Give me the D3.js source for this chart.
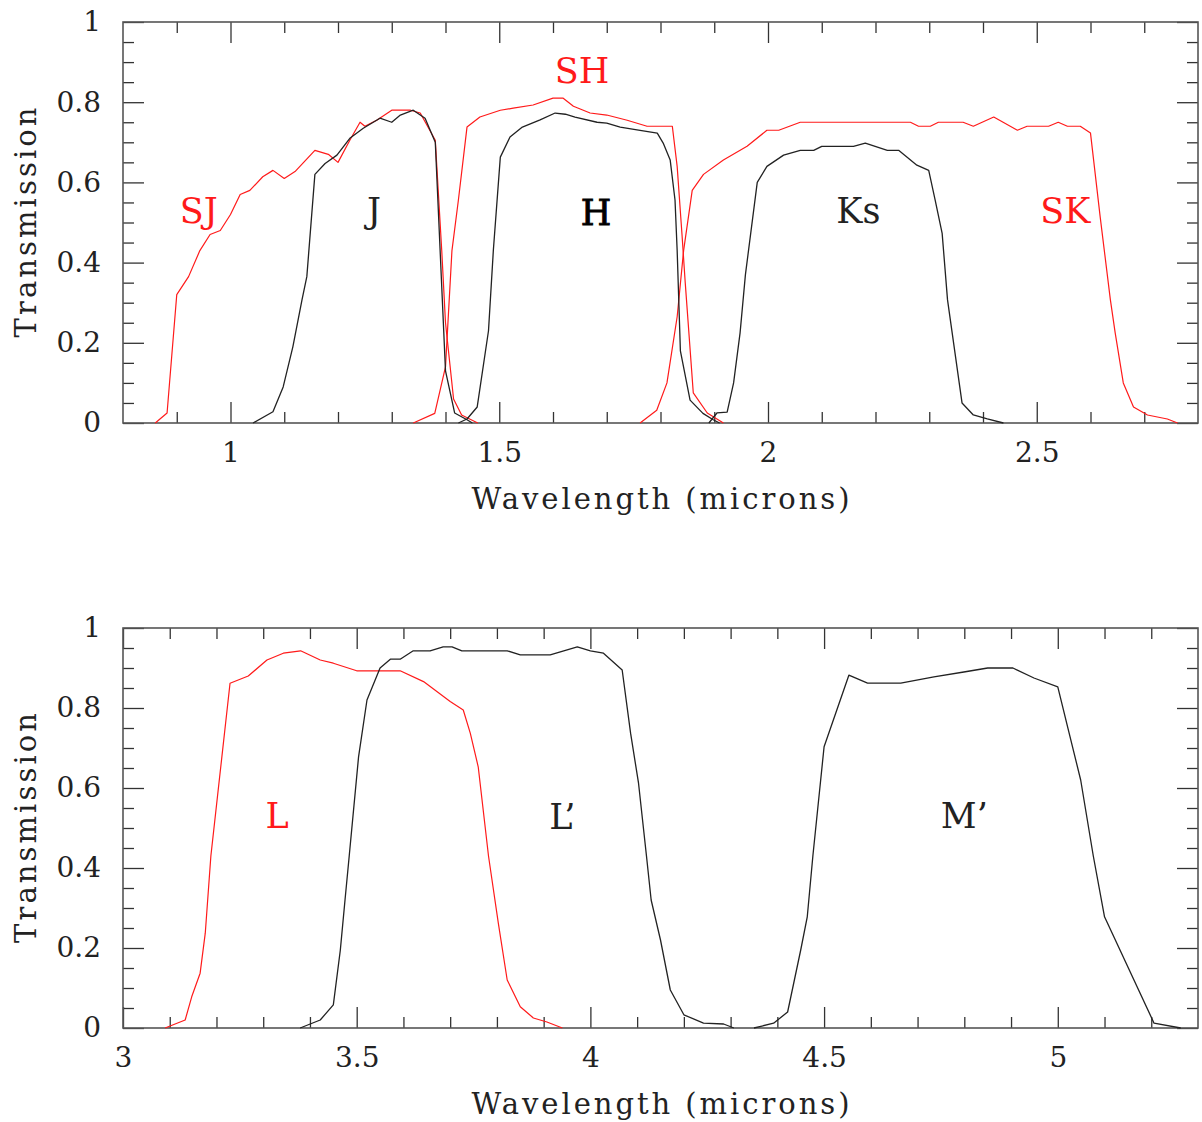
<!DOCTYPE html>
<html>
<head>
<meta charset="utf-8">
<script src="https://cdn.jsdelivr.net/npm/d3@7"></script>
<style>
  body { margin: 0; background: #fff; }
  svg { display: block; }
</style>
</head>
<body>
<div id="chart"></div>
<script>
// ---- data: [wavelength (microns), transmission] ----
var SJ = [[0.86,0],[0.882,0.025],[0.90,0.32],[0.922,0.365],[0.943,0.43],[0.962,0.47],[0.981,0.48],[1.0,0.52],
  [1.018,0.57],[1.036,0.58],[1.06,0.614],[1.079,0.63],[1.10,0.61],[1.12,0.627],[1.157,0.68],[1.182,0.67],
  [1.20,0.65],[1.222,0.705],[1.241,0.75],[1.25,0.74],[1.272,0.755],[1.30,0.78],[1.335,0.78],[1.353,0.773],
  [1.381,0.705],[1.393,0.43],[1.40,0.25],[1.415,0.06],[1.43,0.02],[1.46,0]];
var J = [[1.042,0],[1.079,0.028],[1.098,0.09],[1.116,0.19],[1.133,0.307],[1.142,0.365],[1.157,0.62],
  [1.176,0.647],[1.198,0.668],[1.222,0.71],[1.247,0.735],[1.278,0.76],[1.30,0.75],[1.316,0.768],[1.34,0.78],
  [1.362,0.76],[1.381,0.70],[1.39,0.43],[1.40,0.13],[1.417,0.025],[1.44,0.008],[1.45,0]];
var SH = [[1.34,0],[1.38,0.024],[1.40,0.14],[1.412,0.43],[1.424,0.556],[1.44,0.738],[1.464,0.763],[1.502,0.78],
  [1.526,0.785],[1.563,0.793],[1.60,0.81],[1.619,0.81],[1.638,0.79],[1.669,0.773],[1.70,0.768],[1.738,0.755],
  [1.775,0.74],[1.822,0.74],[1.831,0.64],[1.84,0.47],[1.846,0.35],[1.861,0.075],[1.887,0.025],[1.917,0]];
var H = [[1.424,0],[1.44,0.01],[1.459,0.04],[1.48,0.23],[1.489,0.43],[1.502,0.663],[1.52,0.713],[1.543,0.738],
  [1.576,0.756],[1.604,0.773],[1.623,0.77],[1.641,0.763],[1.682,0.75],[1.70,0.748],[1.725,0.738],[1.762,0.73],
  [1.794,0.723],[1.805,0.698],[1.818,0.656],[1.827,0.556],[1.831,0.43],[1.837,0.18],[1.855,0.057],
  [1.879,0.024],[1.898,0.008],[1.91,0]];
var SK = [[1.762,0],[1.793,0.032],[1.812,0.10],[1.831,0.265],[1.843,0.43],[1.859,0.58],[1.88,0.62],[1.917,0.656],
  [1.961,0.69],[1.998,0.73],[2.02,0.73],[2.06,0.75],[2.265,0.75],[2.28,0.74],[2.302,0.74],[2.317,0.75],
  [2.363,0.75],[2.382,0.74],[2.42,0.763],[2.464,0.73],[2.482,0.74],[2.522,0.74],[2.54,0.75],[2.557,0.74],
  [2.581,0.74],[2.60,0.723],[2.618,0.514],[2.637,0.307],[2.646,0.224],[2.661,0.10],[2.68,0.04],[2.706,0.02],
  [2.743,0.01],[2.762,0]];
var Ks = [[1.89,0],[1.905,0.025],[1.924,0.027],[1.936,0.10],[1.948,0.224],[1.958,0.37],[1.98,0.6],[1.998,0.64],
  [2.029,0.668],[2.06,0.68],[2.085,0.68],[2.1,0.69],[2.159,0.69],[2.181,0.698],[2.222,0.68],[2.243,0.68],
  [2.277,0.643],[2.299,0.63],[2.311,0.556],[2.324,0.473],[2.334,0.307],[2.361,0.05],[2.382,0.02],
  [2.408,0.01],[2.438,0]];
var L = [[3.09,0],[3.133,0.02],[3.147,0.078],[3.165,0.137],[3.176,0.237],[3.188,0.43],[3.229,0.862],[3.268,0.88],
  [3.308,0.92],[3.343,0.937],[3.38,0.943],[3.422,0.92],[3.45,0.912],[3.5,0.893],[3.593,0.893],[3.643,0.866],
  [3.70,0.816],[3.728,0.795],[3.743,0.737],[3.76,0.653],[3.782,0.43],[3.803,0.262],[3.822,0.12],[3.85,0.053],
  [3.878,0.025],[3.907,0.015],[3.94,0]];
var Lp = [[3.379,0],[3.422,0.02],[3.45,0.058],[3.465,0.195],[3.475,0.32],[3.484,0.43],[3.504,0.678],[3.522,0.82],
  [3.55,0.9],[3.572,0.922],[3.593,0.922],[3.621,0.943],[3.657,0.943],[3.685,0.953],[3.704,0.953],[3.725,0.943],
  [3.822,0.943],[3.85,0.933],[3.914,0.933],[3.972,0.953],[4.0,0.943],[4.028,0.937],[4.068,0.895],[4.086,0.737],
  [4.103,0.612],[4.12,0.43],[4.13,0.32],[4.15,0.22],[4.171,0.095],[4.2,0.033],[4.242,0.012],[4.285,0.01],[4.307,0]];
var Mp = [[4.35,0],[4.392,0.012],[4.422,0.04],[4.45,0.195],[4.464,0.278],[4.476,0.43],[4.5,0.703],[4.553,0.882],
  [4.593,0.862],[4.664,0.862],[4.735,0.878],[4.799,0.89],[4.85,0.9],[4.904,0.9],[4.949,0.875],[5.0,0.853],
  [5.021,0.753],[5.049,0.62],[5.076,0.43],[5.1,0.278],[5.206,0.012],[5.263,0]];

var topXTicks = [1, 1.5, 2, 2.5];
var topXLabels = ['1', '1.5', '2', '2.5'];
var botXTicks = [3, 3.5, 4, 4.5, 5];
var botXLabels = ['3', '3.5', '4', '4.5', '5'];
var yTicks = [0, 0.2, 0.4, 0.6, 0.8, 1];
var yLabels = ['0', '0.2', '0.4', '0.6', '0.8', '1'];

var width = 1202, height = 1122;
var left = 123, right = 1198;
var RED = '#ff1a1a', INK = '#222';
var serif = '"DejaVu Serif", serif';

var svg = d3.select('#chart').append('svg')
  .attr('width', width)
  .attr('height', height)
  .style('background', '#fff');

function panel(cfg) {
  var x = d3.scaleLinear().domain(cfg.xDomain).range([left, right]);
  var y = d3.scaleLinear().domain([0, 1]).range([cfg.bottom, cfg.top]);
  var g = svg.append('g');

  // minor ticks every 0.1 in x and 0.05 in y
  var xMinor = d3.range(Math.round(cfg.xDomain[0] * 10) + 1, Math.round(cfg.xDomain[1] * 10))
    .map(function(d) { return d / 10; })
    .filter(function(d) { return Math.abs(d * 2 - Math.round(d * 2)) > 1e-6; });
  var yMinor = d3.range(1, 20).map(function(d) { return d / 20; })
    .filter(function(d) { return Math.abs(d * 5 - Math.round(d * 5)) > 1e-6; });

  function styleAxis(a) {
    a.select('.domain').remove();
    a.selectAll('line').attr('stroke', '#333').attr('stroke-width', 1.3);
    a.selectAll('text').attr('font-family', serif).attr('font-size', 28).attr('fill', INK);
  }

  // bottom
  g.append('g').attr('transform', `translate(0,${cfg.bottom})`)
    .call(d3.axisBottom(x).tickValues(cfg.xTicks)
      .tickFormat(function(d, i) { return cfg.xLabels[i]; })
      .tickSizeInner(-21).tickSizeOuter(0).tickPadding(19))
    .call(styleAxis);
  g.append('g').attr('transform', `translate(0,${cfg.bottom})`)
    .call(d3.axisBottom(x).tickValues(xMinor).tickFormat('').tickSizeInner(-11).tickSizeOuter(0))
    .call(styleAxis);
  // top
  g.append('g').attr('transform', `translate(0,${cfg.top})`)
    .call(d3.axisTop(x).tickValues(cfg.xTicks).tickFormat('').tickSizeInner(-21).tickSizeOuter(0))
    .call(styleAxis);
  g.append('g').attr('transform', `translate(0,${cfg.top})`)
    .call(d3.axisTop(x).tickValues(xMinor).tickFormat('').tickSizeInner(-11).tickSizeOuter(0))
    .call(styleAxis);
  // left
  g.append('g').attr('transform', `translate(${left},0)`)
    .call(d3.axisLeft(y).tickValues(yTicks)
      .tickFormat(function(d, i) { return yLabels[i]; })
      .tickSizeInner(-21).tickSizeOuter(0).tickPadding(22))
    .call(styleAxis);
  g.append('g').attr('transform', `translate(${left},0)`)
    .call(d3.axisLeft(y).tickValues(yMinor).tickFormat('').tickSizeInner(-11).tickSizeOuter(0))
    .call(styleAxis);
  // right
  g.append('g').attr('transform', `translate(${right},0)`)
    .call(d3.axisRight(y).tickValues(yTicks).tickFormat('').tickSizeInner(-21).tickSizeOuter(0))
    .call(styleAxis);
  g.append('g').attr('transform', `translate(${right},0)`)
    .call(d3.axisRight(y).tickValues(yMinor).tickFormat('').tickSizeInner(-11).tickSizeOuter(0))
    .call(styleAxis);

  // frame
  g.append('rect')
    .attr('x', left).attr('y', cfg.top)
    .attr('width', right - left).attr('height', cfg.bottom - cfg.top)
    .attr('fill', 'none').attr('stroke', '#555').attr('stroke-width', 1.6);

  var line = d3.line().x(function(d) { return x(d[0]); }).y(function(d) { return y(d[1]); });
  cfg.curves.forEach(function(c) {
    g.append('path').datum(c.data)
      .attr('d', line)
      .attr('fill', 'none')
      .attr('stroke', c.color)
      .attr('stroke-width', c.color === RED ? 1.2 : 1.3)
      .attr('stroke-linejoin', 'round');
  });

  cfg.labels.forEach(function(l) {
    g.append('text')
      .attr('x', x(l.x)).attr('y', y(l.y))
      .attr('text-anchor', 'middle')
      .attr('font-family', serif)
      .attr('font-size', 35)
      .attr('fill', l.color)
      .attr('stroke', l.bold ? l.color : 'none')
      .attr('stroke-width', l.bold ? 0.9 : 0)
      .text(l.text);
  });

  // axis titles
  g.append('text')
    .attr('x', (left + right) / 2).attr('y', cfg.bottom + 86)
    .attr('text-anchor', 'middle')
    .attr('font-family', serif).attr('font-size', 29)
    .attr('fill', INK)
    .attr('textLength', 378).attr('lengthAdjust', 'spacing')
    .text('Wavelength (microns)');
  g.append('text')
    .attr('transform', `translate(36,${(cfg.top + cfg.bottom) / 2}) rotate(-90)`)
    .attr('text-anchor', 'middle')
    .attr('font-family', serif).attr('font-size', 29)
    .attr('fill', INK)
    .attr('textLength', 230).attr('lengthAdjust', 'spacing')
    .text('Transmission');
}

panel({
  xDomain: [0.8, 2.8], top: 22, bottom: 423,
  xTicks: topXTicks, xLabels: topXLabels,
  curves: [
    { data: SJ, color: RED }, { data: SH, color: RED }, { data: SK, color: RED },
    { data: J, color: INK }, { data: H, color: INK }, { data: Ks, color: INK }
  ],
  labels: [
    { text: 'SJ', x: 0.941, y: 0.5, color: RED },
    { text: 'J', x: 1.267, y: 0.5, color: INK },
    { text: 'SH', x: 1.654, y: 0.848, color: RED },
    { text: 'H', x: 1.680, y: 0.494, color: '#000', bold: true },
    { text: 'Ks', x: 2.168, y: 0.5, color: INK },
    { text: 'SK', x: 2.553, y: 0.5, color: RED }
  ]
});

panel({
  xDomain: [3, 5.3], top: 628, bottom: 1028,
  xTicks: botXTicks, xLabels: botXLabels,
  curves: [
    { data: L, color: RED }, { data: Lp, color: INK }, { data: Mp, color: INK }
  ],
  labels: [
    { text: 'L', x: 3.33, y: 0.5, color: RED },
    { text: 'L\u2019', x: 3.94, y: 0.497, color: INK },
    { text: 'M\u2019', x: 4.8, y: 0.5, color: INK }
  ]
});
</script>
</body>
</html>
